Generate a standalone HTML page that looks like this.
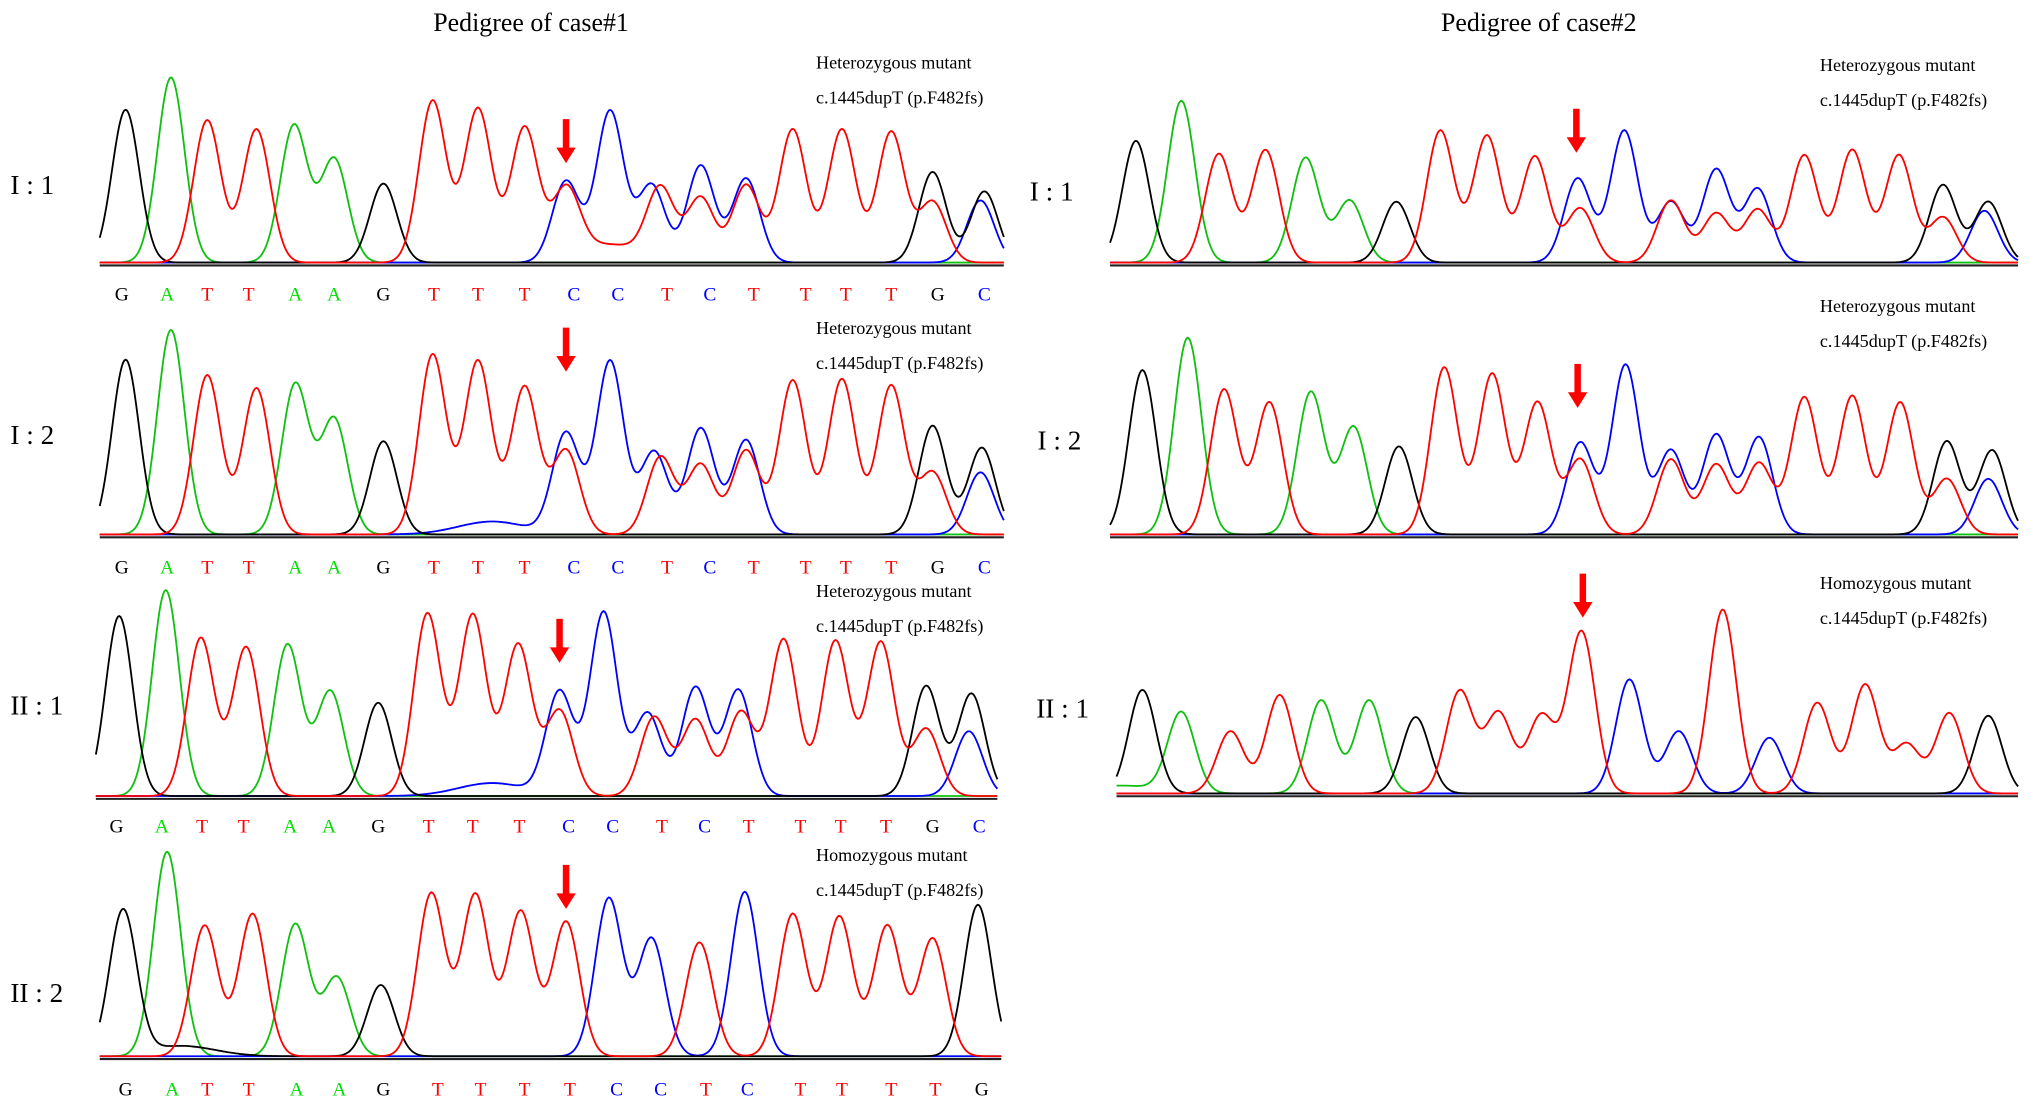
<!DOCTYPE html>
<html><head><meta charset="utf-8">
<style>
html,body{margin:0;padding:0;background:#fff;}
svg{display:block;}
text{font-family:"Liberation Serif",serif;}
</style></head>
<body>
<svg id="fig" width="2031" height="1107" viewBox="0 0 1568 855" preserveAspectRatio="none" xmlns="http://www.w3.org/2000/svg">
<rect width="1568" height="855" fill="#fff"/>
<text x="410" y="24" font-size="20" text-anchor="middle">Pedigree of case#1</text>
<text x="1188" y="24" font-size="20" text-anchor="middle">Pedigree of case#2</text>
</svg>
<script>
// ---- data: peak centres (x), channel (G/A/T/C), heights ----
const p1X=[97,132,160,198,227,258,296,334,369,405,437,437,470,471,503,510,541,541,576,576,612,650,688,720,720,760,757];
const p1C=['G','A','T','T','A','A','G','T','T','T','C','T','T','C','C','T','C','T','C','T','T','T','T','G','T','G','C'];
const p1H=[118,143,110,103,106,80,61,125,119,104,63,53,14,117,60,55,75,50,65,60,103,103,101,70,47,55,48];

const p2X=[97,132,160,198,228,258,296,334,369,405,380,437,437,471,505,510,541,541,576,576,612,650,688,720,720,758,757];
const p2C=['G','A','T','T','A','A','G','T','T','T','C','C','T','C','C','T','C','T','C','T','T','T','T','G','T','G','C'];
const p2H=[135,158,123,113,116,89,72,139,134,114,10,78,65,134,64,60,82,54,73,65,119,120,115,84,48,67,48];

const p3X=[92,128,155,190,222,255,292,330,365,400,380,432,432,466,500,505,537,537,570,572,605,645,680,715,715,750,748];
const p3C=['G','A','T','T','A','A','G','T','T','T','C','C','T','C','C','T','C','T','C','T','T','T','T','G','T','G','C'];
const p3H=[139,159,122,115,117,81,72,141,140,117,10,80,66,142,64,61,84,59,82,65,121,120,119,85,52,79,50];

const p4X=[95,129,158,195,228,260,294,333,367,402,437,470,503,540,575,612,648,685,720,755,140];
const p4C=['G','A','T','T','A','A','G','T','T','T','T','C','C','T','C','T','T','T','T','G','G'];
const p4H=[112,158,101,110,102,61,55,126,125,112,104,122,91,88,127,110,108,101,91,117,8];

const q1X=[877,912,941,977,1008,1042,1078,1112,1148,1185,1218,1220,1254,1290,1290,1325,1325,1357,1357,1393,1430,1466,1500,1500,1535,1532];
const q1C=['G','A','T','T','A','A','G','T','T','T','C','T','C','C','T','C','T','C','T','T','T','T','G','T','G','C'];
const q1H=[94,125,84,87,81,48,47,102,98,82,65,42,102,47,48,72,38,57,41,83,87,83,60,35,47,40];

const q2X=[882,917,945,980,1012,1045,1080,1115,1152,1187,1220,1220,1255,1290,1290,1325,1325,1358,1358,1393,1430,1467,1503,1503,1538,1535];
const q2C=['G','A','T','T','A','A','G','T','T','T','C','T','C','C','T','C','T','C','T','T','T','T','G','T','G','C'];
const q2H=[127,152,112,102,110,83,68,129,124,102,71,58,131,65,58,77,54,75,55,106,107,102,72,43,65,43];

const q3X=[882,912,950,988,1020,1057,1093,1127,1157,1190,1221,1258,1296,1330,1366,1403,1440,1472,1505,1535,866];
const q3C=['G','A','T','T','A','A','G','T','T','T','T','C','C','T','C','T','T','T','T','G','A'];
const q3H=[80,62,48,76,72,72,59,79,62,60,125,88,48,142,43,70,84,38,62,60,6];

const seqA=['G','A','T','T','A','A','G','T','T','T','C','C','T','C','T','T','T','T','G','C'];
const seqAX=[94,129,160,192,228,258,296,335,369,405,443,477,515,548,582,622,653,688,724,760];
const seqB=['G','A','T','T','A','A','G','T','T','T','T','C','C','T','C','T','T','T','T','G'];
const seqBX=[97,133,160,192,229,262,296,338,371,405,440,476,510,545,577,618,650,688,722,758];

const panels=[
 {name:'case1-I-1',x:p1X,c:p1C,h:p1H,x0:77,x1:775,base:205,label:'I : 1',lx:8,ly:150,ann:'Heterozygous mutant',ax:630,ay:53,arX:437,arY:92,seq:seqA,sx:seqAX,sy:232},
 {name:'case1-I-2',x:p2X,c:p2C,h:p2H,x0:77,x1:775,base:415,label:'I : 2',lx:8,ly:343,ann:'Heterozygous mutant',ax:630,ay:258,arX:437,arY:253,seq:seqA,sx:seqAX,sy:443},
 {name:'case1-II-1',x:p3X,c:p3C,h:p3H,x0:74,x1:770,base:617,label:'II :  1',lx:8,ly:552,ann:'Heterozygous mutant',ax:630,ay:461,arX:432,arY:478,seq:seqA,sx:seqAX.map(v=>v-4),sy:643},
 {name:'case1-II-2',x:p4X,c:p4C,h:p4H,x0:77,x1:773,base:818,label:'II :  2',lx:8,ly:774,ann:'Homozygous mutant',ax:630,ay:665,arX:437,arY:668,seq:seqB,sx:seqBX,sy:846},
 {name:'case2-I-1',x:q1X,c:q1C,h:q1H,x0:857,x1:1558,base:205,label:'I : 1',lx:795,ly:155,ann:'Heterozygous mutant',ax:1405,ay:55,arX:1217,arY:84},
 {name:'case2-I-2',x:q2X,c:q2C,h:q2H,x0:857,x1:1558,base:415,label:'I : 2',lx:801,ly:347,ann:'Heterozygous mutant',ax:1405,ay:241,arX:1218,arY:281},
 {name:'case2-II-1',x:q3X,c:q3C,h:q3H,x0:862,x1:1558,base:615,label:'II :  1',lx:800,ly:554,ann:'Homozygous mutant',ax:1405,ay:455,arX:1222,arY:443}
];
const colors={G:'#000000',A:'#10c010',T:'#ff0000',C:'#0000ff'};
const baseColors={G:'#000000',A:'#00dd00',T:'#ff0000',C:'#0000ff'};
const NS='http://www.w3.org/2000/svg';
const svg=document.getElementById('fig');
function mk(tag,attrs){const e=document.createElementNS(NS,tag);for(const k in attrs)e.setAttribute(k,attrs[k]);return e;}
const SIG=10.5;
panels.forEach(p=>{
  const g=mk('g',{});
  
  
  svg.appendChild(g);
  const ax=mk('line',{x1:p.x0,x2:p.x1,y1:p.base,y2:p.base,stroke:'#222','stroke-width':1.6});
  
  
  g.appendChild(ax);
  ['A','C','G','T'].forEach(ch=>{
    let d='';
    for(let x=p.x0;x<=p.x1;x+=1){
      let v=1.2;
      for(let i=0;i<p.x.length;i++){if(p.c[i]!==ch)continue;const dx=x-p.x[i];const s=p.h[i]<=14?SIG*2.5:SIG;v+=p.h[i]*Math.exp(-dx*dx/(2*s*s));}
      d+=(x===p.x0?'M':'L')+x+','+(p.base-1-v).toFixed(1);
    }
    const path=mk('path',{d:d,fill:'none',stroke:colors[ch],'stroke-width':1.4});
    
    
    g.appendChild(path);
  });
  const lab=mk('text',{x:p.lx,y:p.ly,'font-size':21});
  lab.textContent=p.label;
  
  
  g.appendChild(lab);
  const a1=mk('text',{x:p.ax,y:p.ay,'font-size':14});
  a1.textContent=p.ann;
  
  
  g.appendChild(a1);
  const a2=mk('text',{x:p.ax,y:p.ay+27,'font-size':14});
  a2.textContent='c.1445dupT (p.F482fs)';
  
  
  g.appendChild(a2);
  const ar=mk('path',{d:`M${p.arX-2.5},${p.arY} h5 v22 h5 l-7.5,12 l-7.5,-12 h5 z`,fill:'#ff0000'});
  
  
  g.appendChild(ar);
  if(p.seq){
    p.seq.forEach((b,i)=>{
      const t=mk('text',{x:p.sx[i],y:p.sy,'font-size':15,'text-anchor':'middle',fill:baseColors[b]});
      t.textContent=b;
      
      
      g.appendChild(t);
    });
  }
});
</script>
</body></html>
